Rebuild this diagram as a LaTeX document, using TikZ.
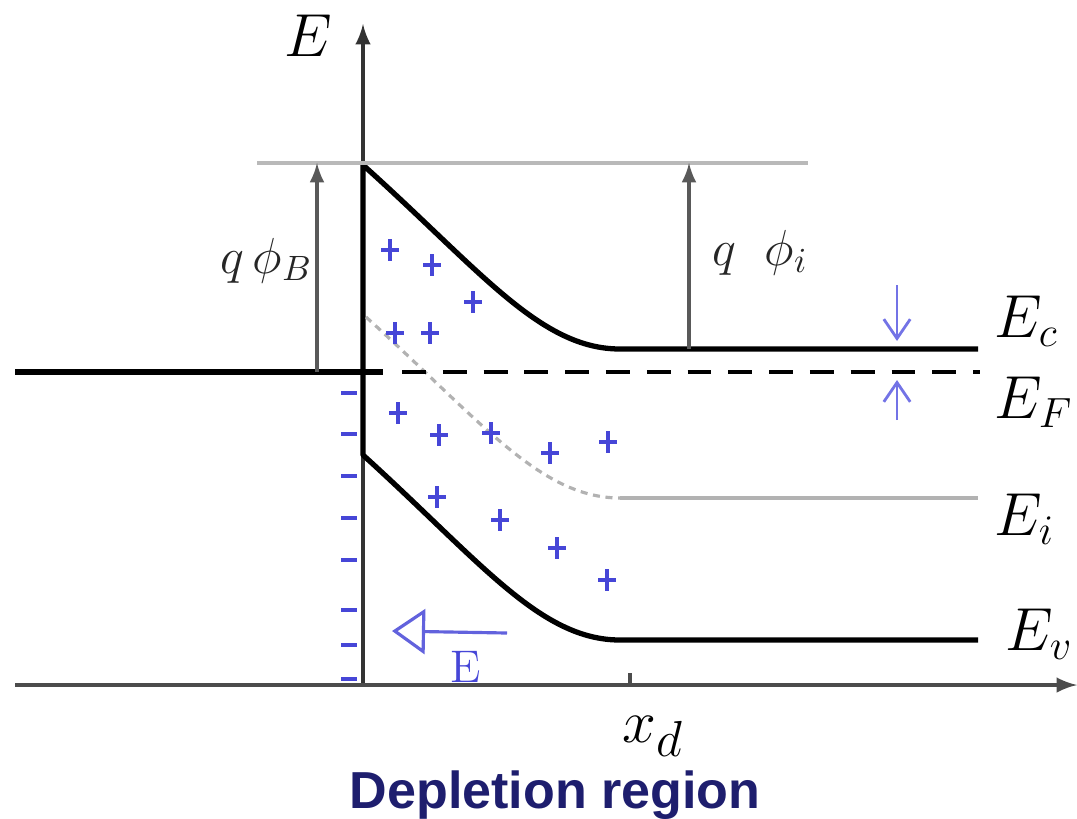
\documentclass[tikz,border=0pt]{standalone}
\usepackage{amsmath}
\usepackage{fontspec}
\usepackage{xcolor}
\usetikzlibrary{arrows}
\usetikzlibrary{arrows.meta}
\newfontfamily\regionfont{Liberation Sans}
\definecolor{chargeblue}{RGB}{70,70,215}
\definecolor{arrowblue}{RGB}{115,115,230}
\definecolor{regionnavy}{RGB}{30,30,110}

\begin{document}
\begin{tikzpicture}[x=0.01cm, y=-0.01cm,
        band/.style={line width=1.5pt, line join=round},
        gaparrow/.style={line width=0.9pt, black!65, -latex},
        charge/.style={chargeblue, line width=0.9pt},
        lbl/.style={inner sep=0pt, anchor=base west, font=\fontsize{17}{20}\selectfont},
        philbl/.style={inner sep=0pt, anchor=base west, black!85, font=\fontsize{14}{16}\selectfont}]
        \useasboundingbox (0,0) rectangle (1077,818);

        % axes
        \coordinate (O) at (363,685);
        \coordinate (xstart) at (15,685);
        \coordinate (xend) at (1077,685);
        \coordinate (ytop) at (363,24);
        \draw[line width=1pt, black!80, -latex] (O) -- (ytop);
        \draw[line width=1pt, black!70, -latex] (xstart) -- (xend);
        \node[lbl, anchor=center] (Eaxis) at (308,36) {$E$};
        \coordinate (xd) at (630,685);
        \draw[line width=1pt, black!70] (xd) -- ++(0,-12);
        \node[lbl, font=\fontsize{19}{22}\selectfont] (xdlabel) at (622,742) {$x_d$};

        % band edges
        \coordinate (Ec0) at (363,165);
        \coordinate (Ec1) at (620,349);
        \coordinate (Ev0) at (363,455);
        \coordinate (Ev1) at (620,640);
        \coordinate (Ei0) at (366,317);
        \coordinate (Ei1) at (620,498);
        \node[lbl] (Ec) at (994,337) {$E_c$};
        \node[lbl] (EF) at (994,418) {$E_F$};
        \node[lbl] (Ei) at (994,535) {$E_i$};
        \node[lbl] (Ev) at (1005,650) {$E_v$};
        \draw[band] (978,349) -- (Ec1) .. controls (540,349) and (480,270) .. (Ec0)
            -- (Ev0) .. controls (480,561) and (540,640) .. (Ev1) -- (978,640);
        \draw[gray!60, line width=0.9pt, dash pattern=on 2pt off 1.6pt]
            (Ei0) .. controls (480,420) and (540,498) .. (Ei1);
        \draw[gray!60, line width=1pt] (Ei1) -- (978,498);

        % Fermi level, metal and semiconductor
        \draw[band] (15,372) -- (383,372);
        \draw[line width=1.3pt, dash pattern=on 6.8pt off 4.8pt] (402,372) -- (980,372);
        \draw[gray!55, line width=0.9pt] (257,163) -- (808,163);

        % barrier heights
        \draw[gaparrow] (317,372) -- (317,163);
        \draw[gaparrow] (689,349) -- (689,163);
        \node[philbl] (phiB) at (220,273) {$q\,\phi_B$};
        \node[philbl] (phii) at (712,265) {$q\;\;\phi_i$};
        \draw[arrowblue, line width=0.8pt, -{Straight Barb[length=5.5pt,width=7.5pt]}] (897,285) -- (897,341);
        \draw[arrowblue, line width=0.8pt, -{Straight Barb[length=5.5pt,width=7.5pt]}] (897,420) -- (897,380);

        % space charge
        \foreach \x/\y in {390/250,432/265,473/302,395/333,430/333,398/413,439/435,
                491/433,550/453,608/442,437/497,500/520,557/548,607/580} {
            \draw[charge] (\x-9,\y) -- (\x+9,\y) (\x,\y-11) -- (\x,\y+11);
        }
        \foreach \y in {393,434,476,518,560,610,645,679} {
            \draw[charge] (341,\y) -- (357,\y);
        }
        \draw[chargeblue!85, line width=0.9pt, -{Triangle[open,length=9.4pt,width=12.8pt]}] (507,633) -- (392,631);
        \node[chargeblue, inner sep=0pt, font=\fontsize{13}{15}\selectfont] (Efield) at (466,667) {E};

        \node[regionnavy, inner sep=0pt, anchor=base, font=\regionfont\bfseries\fontsize{14.8}{17}\selectfont] (region) at (555,808) {Depletion region};
\end{tikzpicture}
\end{document}
